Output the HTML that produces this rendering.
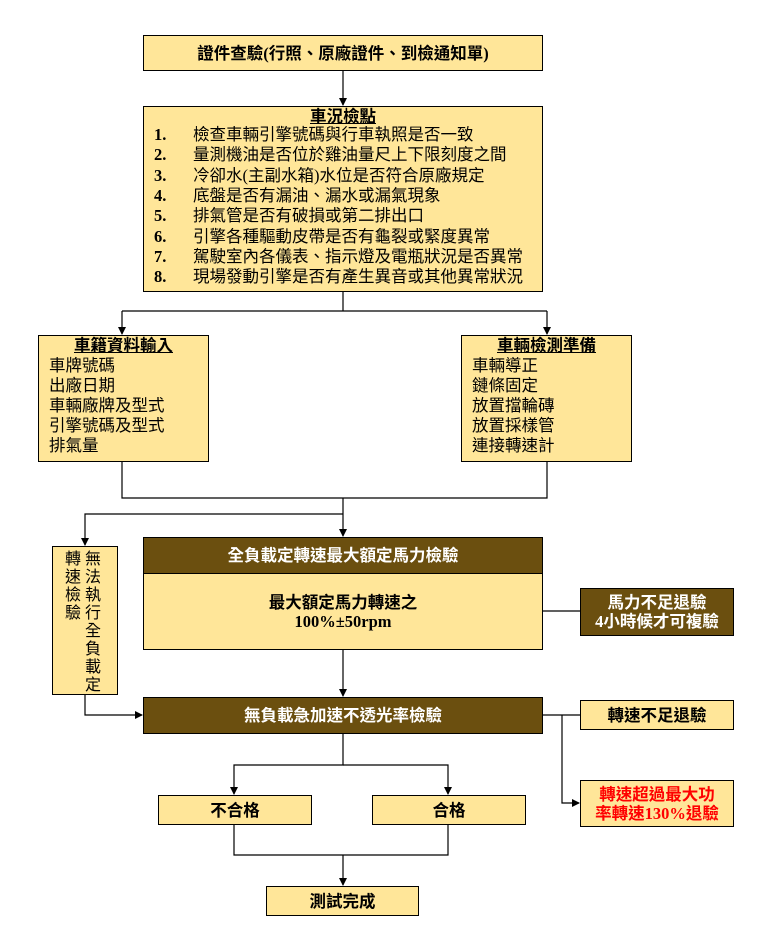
<!DOCTYPE html>
<html><head><meta charset="utf-8"><style>
body{margin:0;width:762px;height:945px;background:#fff;position:relative;overflow:hidden;font-family:"Liberation Serif","Noto Sans CJK TC",serif;color:#000}
.b{position:absolute;box-sizing:border-box;border:1px solid #000;background:#FFE699;font-size:16.5px}
.d{background:#6B4F0F;color:#fff}
.c{display:flex;align-items:center;justify-content:center;text-align:center;line-height:19px}
.it{position:absolute;left:10px;font-size:16.5px;line-height:19px;white-space:nowrap}
.it span{display:inline-block;width:39px;font-weight:bold}
svg{position:absolute;left:0;top:0}
</style></head><body>
<svg width="762" height="945">
<defs><marker id="a" markerWidth="8" markerHeight="8" refX="7" refY="4" orient="auto" markerUnits="userSpaceOnUse"><path d="M0,0L8,4L0,8z" fill="#000"/></marker></defs>
<g stroke="#000" stroke-width="1.2" fill="none">
<path d="M343,70V105" marker-end="url(#a)"/>
<path d="M343,291V311M122,311H547"/>
<path d="M122,311V334" marker-end="url(#a)"/>
<path d="M547,311V334" marker-end="url(#a)"/>
<path d="M122,461V498H547V461M343,498V536" marker-end="url(#a)"/>
<path d="M343,514H85V545" marker-end="url(#a)"/>
<path d="M542,611H580"/>
<path d="M343,649V696" marker-end="url(#a)"/>
<path d="M85,694V715H142" marker-end="url(#a)"/>
<path d="M542,715H580"/>
<path d="M562,715V803H579" marker-end="url(#a)"/>
<path d="M343,733V765H234V794" marker-end="url(#a)"/>
<path d="M343,765H448V794" marker-end="url(#a)"/>
<path d="M234,824V855H448V824M343,855V885" marker-end="url(#a)"/>
</g></svg>
<div class="b c" style="left:143px;top:35px;width:400px;height:36px;font-weight:bold">證件查驗(行照、原廠證件、到檢通知單)</div>
<div class="b" style="left:143px;top:106px;width:400px;height:186px">
<div style="position:absolute;left:0;right:0;top:0px;line-height:19px;text-align:center;font-weight:bold;text-decoration:underline">車況檢點</div>
<div class="it" style="top:18px"><span>1.</span>檢查車輛引擎號碼與行車執照是否一致</div>
<div class="it" style="top:38px"><span>2.</span>量測機油是否位於雞油量尺上下限刻度之間</div>
<div class="it" style="top:59px"><span>3.</span>冷卻水(主副水箱)水位是否符合原廠規定</div>
<div class="it" style="top:79px"><span>4.</span>底盤是否有漏油、漏水或漏氣現象</div>
<div class="it" style="top:99px"><span>5.</span>排氣管是否有破損或第二排出口</div>
<div class="it" style="top:120px"><span>6.</span>引擎各種驅動皮帶是否有龜裂或緊度異常</div>
<div class="it" style="top:140px"><span>7.</span>駕駛室內各儀表、指示燈及電瓶狀況是否異常</div>
<div class="it" style="top:160px"><span>8.</span>現場發動引擎是否有產生異音或其他異常狀況</div>
</div>
<div class="b" style="left:38px;top:335px;width:171px;height:127px;line-height:20px;padding:0 10px">
<div style="text-align:center;font-weight:bold;text-decoration:underline">車籍資料輸入</div>車牌號碼<br>出廠日期<br>車輛廠牌及型式<br>引擎號碼及型式<br>排氣量</div>
<div class="b" style="left:461px;top:335px;width:171px;height:127px;line-height:20px;padding:0 10px">
<div style="text-align:center;font-weight:bold;text-decoration:underline">車輛檢測準備</div>車輛導正<br>鏈條固定<br>放置擋輪磚<br>放置採樣管<br>連接轉速計</div>
<div class="b" style="left:52px;top:546px;width:66px;height:149px;font-size:16px;line-height:18px">
<div style="position:absolute;left:12px;top:4px;width:17px">轉速檢驗</div>
<div style="position:absolute;left:32px;top:4px;width:17px">無法執行全負載定</div></div>
<div class="b d c" style="left:143px;top:537px;width:400px;height:37px;font-weight:bold">全負載定轉速最大額定馬力檢驗</div>
<div class="b c" style="left:143px;top:573px;width:400px;height:77px;font-weight:bold">最大額定馬力轉速之<br>100%±50rpm</div>
<div class="b d c" style="left:580px;top:588px;width:154px;height:48px;font-weight:bold">馬力不足退驗<br>4小時候才可複驗</div>
<div class="b d c" style="left:143px;top:697px;width:400px;height:37px;font-weight:bold">無負載急加速不透光率檢驗</div>
<div class="b c" style="left:580px;top:700px;width:154px;height:30px;font-weight:bold">轉速不足退驗</div>
<div class="b c" style="left:580px;top:780px;width:154px;height:47px;font-weight:bold;color:#f00">轉速超過最大功<br>率轉速130%退驗</div>
<div class="b c" style="left:158px;top:795px;width:154px;height:30px;font-weight:bold">不合格</div>
<div class="b c" style="left:372px;top:795px;width:154px;height:30px;font-weight:bold">合格</div>
<div class="b c" style="left:266px;top:886px;width:153px;height:30px;font-weight:bold">測試完成</div>
</body></html>
